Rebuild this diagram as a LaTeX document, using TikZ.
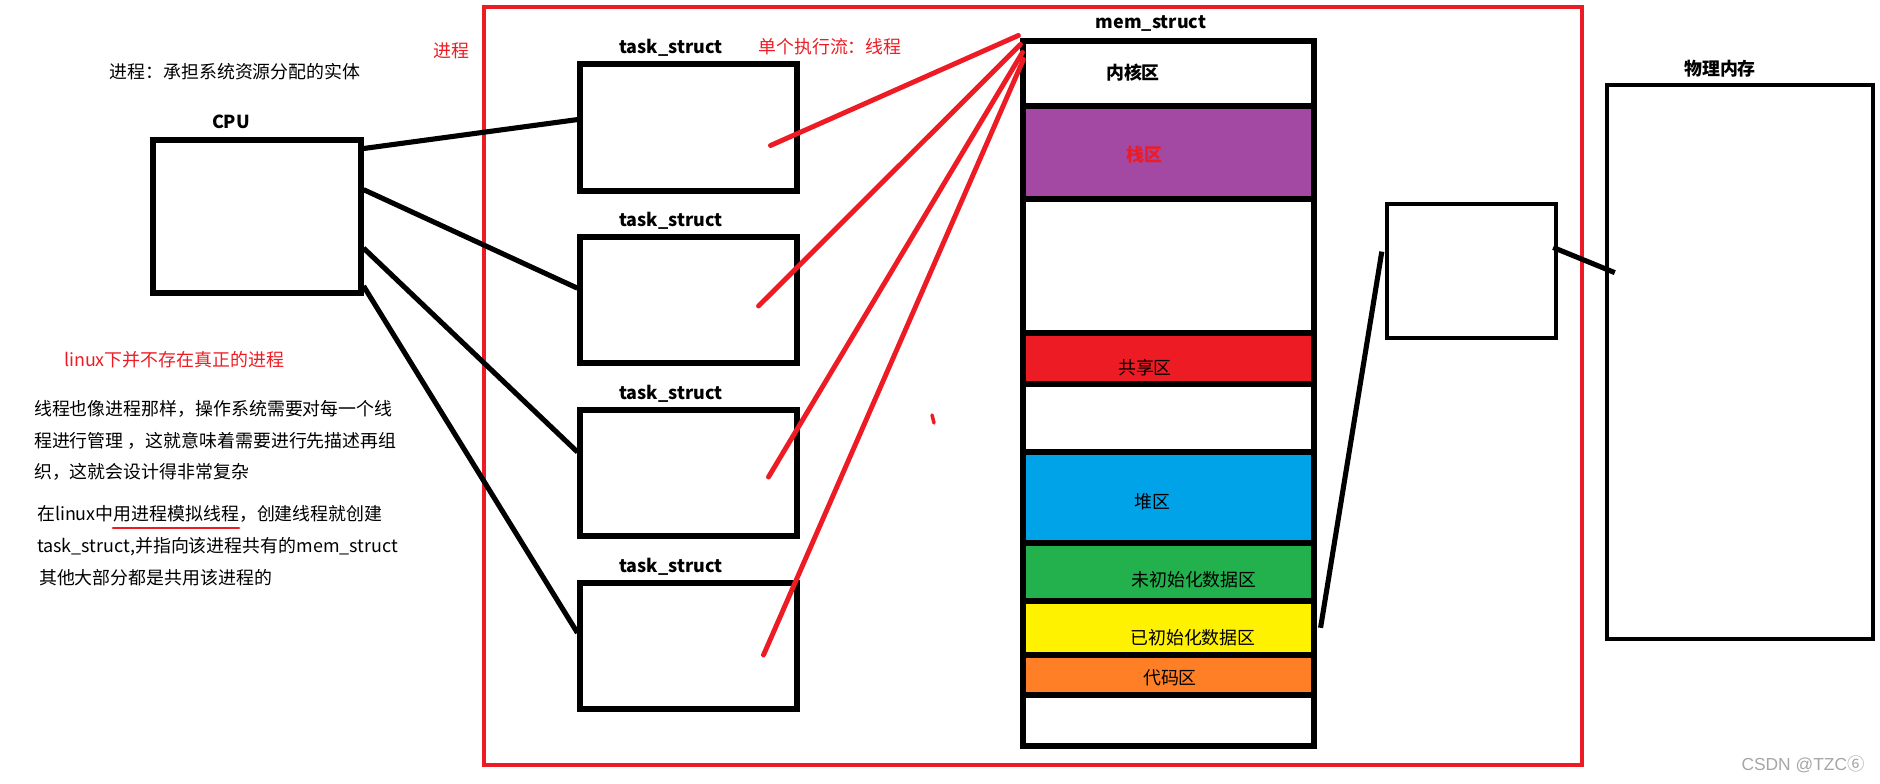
\documentclass[tikz,border=0pt]{standalone}
\usepackage{fontspec}
\setmainfont{Noto Sans CJK SC}
\newfontfamily\markfont{Liberation Sans}
\usetikzlibrary{positioning,fit,calc}

\definecolor{pred}{HTML}{ED1C24}
\definecolor{zpurple}{HTML}{A349A4}
\definecolor{zred}{HTML}{ED1C24}
\definecolor{zblue}{HTML}{00A2E8}
\definecolor{zgreen}{HTML}{22B14C}
\definecolor{zyellow}{HTML}{FFF200}
\definecolor{zorange}{HTML}{FF7F27}

\tikzset{
    box/.style={draw, line width=2.9pt, inner sep=0pt},
    procbox/.style={draw=pred, line width=2.3pt, inner sep=0pt},
    zone/.style={draw, line width=2.9pt},
    txt/.style={font=\fontsize{10.2}{12}\selectfont, inner sep=1pt},
    head/.style={font=\fontsize{10.2}{12}\selectfont\bfseries, inner sep=1pt},
    link/.style={line width=2.9pt},
    rlink/.style={draw=pred, line width=2.8pt, line cap=round},
}

\begin{document}
\begin{tikzpicture}[x=0.02cm, y=-0.02cm, node distance=0.06cm]
    \useasboundingbox (0,0) rectangle (1880,784);

    % the process frame
    \node[procbox, fit={(484,7) (1582,765)}] (proc) {};
    \node[txt, text=pred] (proclbl) at (451,51) {进程};

    % left side
    \node[txt] (procdef) at (235,72) {进程：承担系统资源分配的实体};
    \node[box, fit={(153,140) (361,293)}] (cpu) {};
    \node[head, above=0.13cm of cpu, xshift=-0.52cm] (cpulbl) {CPU};

    \node[txt, text=pred, anchor=west] (note) at (62,360) {linux下并不存在真正的进程};
    \node[txt, anchor=west] (p1) at (32,409) {线程也像进程那样，操作系统需要对每一个线};
    \node[txt, below=0.64cm of p1.west, anchor=west] (p2) {程进行管理 ，这就意味着需要进行先描述再组};
    \node[txt, below=0.62cm of p2.west, anchor=west] (p3) {织，这就会设计得非常复杂};
    \node[txt, anchor=west] (p4) at (35,514) {在linux中用进程模拟线程，创建线程就创建};
    \node[txt, below=0.66cm of p4.west, anchor=west] (p5) {task\_struct,并指向该进程共有的mem\_struct};
    \node[txt, below=0.62cm of p5.west, anchor=west, xshift=0.04cm] (p6) {其他大部分都是共用该进程的};
    \draw[pred, line width=1.6pt, line cap=round] (113,528) -- (239,528);

    % task_struct boxes
    \node[box, fit={(580,64) (797,191)}] (t1) {};
    \node[box, fit={(580,237) (797,363)}] (t2) {};
    \node[box, fit={(580,410) (797,536)}] (t3) {};
    \node[box, fit={(580,583) (797,709)}] (t4) {};
    \foreach \t in {t1,t2,t3,t4}
        \node[head, above=of \t, xshift=-0.35cm] (\t lbl) {task\_struct};
    \node[txt, text=pred] (flow) at (830,47) {单个执行流：线程};

    % mem_struct
    \foreach \top/\bot/\col in {106/199/zpurple, 333/384/zred, 452/543/zblue,
                                543/601/zgreen, 601/655/zyellow, 655/695/zorange}
        \filldraw[zone, fill=\col] (1023,\top) rectangle (1314,\bot);
    \node[box, fit={(1023,41) (1314,746)}] (mem) {};
    \node[head, above=0.09cm of mem, xshift=-0.35cm] (memlbl) {mem\_struct};
    \node[head] (kern) at (1133,73) {内核区};
    \node[head, text=pred] (stack) at (1144,155) {栈区};
    \node[txt] (shared) at (1145,368) {共享区};
    \node[txt] (heap) at (1152,502) {堆区};
    \node[txt] (bss) at (1194,580) {未初始化数据区};
    \node[txt] (data) at (1193,638) {已初始化数据区};
    \node[txt] (code) at (1170,678) {代码区};

    % page table and physical memory
    \node[box, line width=2.5pt, fit={(1387,204) (1556,338)}] (pt) {};
    \node[box, line width=2.5pt, fit={(1607,85) (1873,639)}] (phys) {};
    \node[head, above=0.06cm of phys, xshift=-0.4cm] (physlbl) {物理内存};

    % connectors
    \foreach \t/\a/\b in {t1/0.07/0.44, t2/0.33/0.41, t3/0.70/0.34, t4/0.94/0.40}
        \draw[link] ($(cpu.north east)!\a!(cpu.south east)$) -- ($(\t.north west)!\b!(\t.south west)$);
    \foreach \t/\dx/\dy/\ex/\ey in {t1/82/18/-2/-3, t2/70/6/0/6, t3/80/4/2/14, t4/75/9/3/21}
        \draw[rlink] ($(\t.center)+(\dx,\dy)$) -- ($(mem.north west)+(\ex,\ey)$);
    \draw[link] ($(mem.north east)!0.83!(mem.south east)+(4,0)$) -- ($(pt.north west)!0.36!(pt.south west)+(-3,0)$);
    \draw[link] ($(pt.north east)!0.33!(pt.south east)+(-5,0)$) -- ($(phys.north west)!0.34!(phys.south west)+(10,0)$);
    \draw[pred, line width=2pt, line cap=round] (932,415) -- (934,423);

    \node[font=\fontsize{9.9}{12}\selectfont, text=gray!70] (mark) at (1803,764) {{\markfont CSDN @TZC}⑥};
\end{tikzpicture}
\end{document}
